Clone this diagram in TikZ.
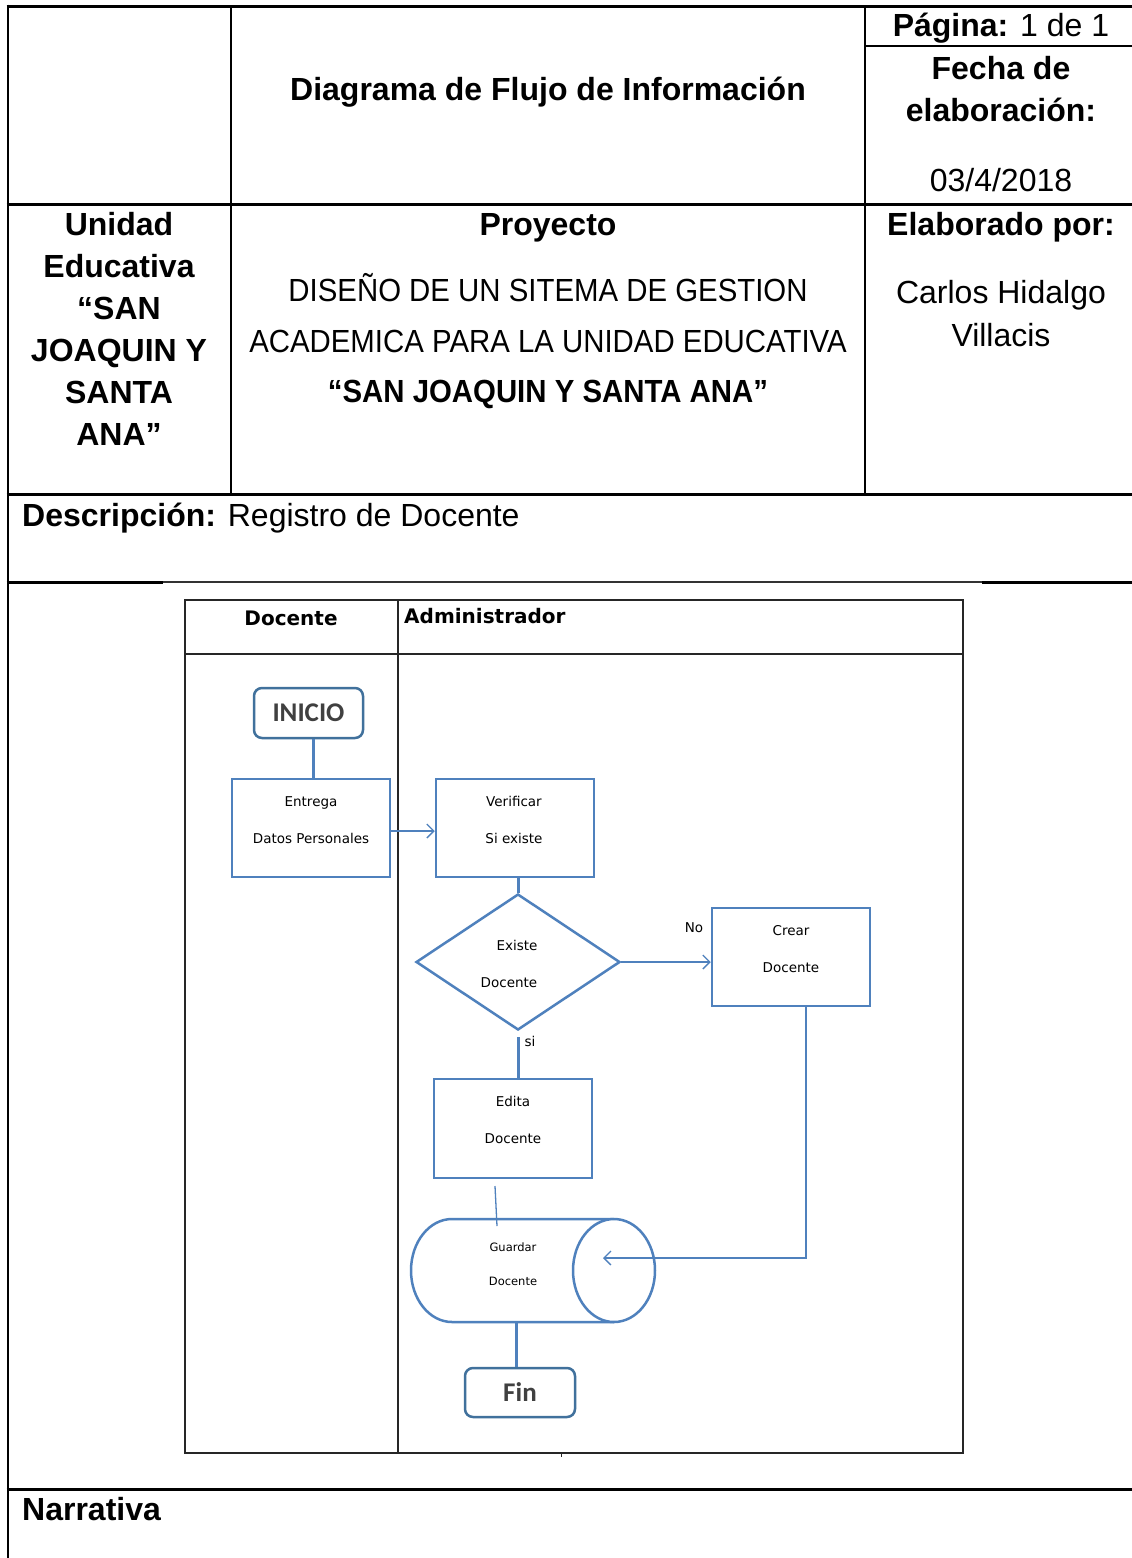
\documentclass[tikz,border=0pt]{standalone}
\usepackage{fontspec}
\setmainfont{Liberation Sans}
\newfontfamily\narrowfont{Liberation Sans}[FakeStretch=0.918]
\newfontfamily\flowfont{DejaVu Sans}
\newfontfamily\termfont{Carlito}
\usetikzlibrary{shapes.geometric,arrows.meta,calc}
\definecolor{boxblue}{HTML}{4F81BD}
\definecolor{termblue}{HTML}{41719C}
\definecolor{lanegray}{HTML}{262626}
\definecolor{termtext}{HTML}{404040}
\begin{document}
\begin{tikzpicture}[x=1pt,y=-1pt,
  hline/.style={line width=3pt,black},
  vline/.style={line width=2pt,black},
  big/.style={font=\fontsize{32}{38}\selectfont,anchor=base,inner sep=0pt},
  bigb/.style={font=\fontsize{32}{38}\selectfont\bfseries,anchor=base,inner sep=0pt},
  bign/.style={font=\narrowfont\fontsize{32}{38}\selectfont,anchor=base,inner sep=0pt},
  lane/.style={line width=1.5pt,lanegray},
  lanehead/.style={font=\flowfont\fontsize{20}{24}\selectfont\bfseries,anchor=base,inner sep=0pt},
  procbox/.style={draw=boxblue,line width=2.5pt,rectangle,inner sep=0pt,fill=white},
  termbox/.style={draw=termblue,line width=2.5pt,rectangle,rounded corners=8pt,inner sep=0pt,fill=white,
     text=termtext,font=\termfont\fontsize{27}{30}\selectfont\bfseries},
  flowtxt/.style={font=\flowfont\fontsize{13.5}{16}\selectfont,anchor=base,inner sep=0pt},
  smalltxt/.style={font=\flowfont\fontsize{11.5}{14}\selectfont,anchor=base,inner sep=0pt},
  thickconn/.style={draw=boxblue,line width=3pt},
  thinconn/.style={draw=boxblue,line width=1.3pt},
  thinarrow/.style={draw=boxblue,line width=1.3pt,-{Straight Barb[length=7pt,width=14pt]}}
]
\useasboundingbox[fill=white] (0,0) rectangle (1132,1558);

% ---------- table frame ----------
\draw[vline] (8,4.5) -- (8,1558);
\draw[hline] (6.5,6) -- (1132,6);
\draw[hline] (6.5,204) -- (1132,204);
\draw[hline] (6.5,494) -- (1132,494);
\draw[hline] (6.5,582) -- (163,582);
\draw[line width=1.5pt,black!80] (163,582) -- (982,582);
\draw[hline] (982,582) -- (1132,582);
\draw[hline] (6.5,1489) -- (1132,1489);
\draw[vline] (231,6) -- (231,494);
\draw[vline] (865,6) -- (865,494);
\draw[line width=2pt,black] (865,46) -- (1132,46);

% ---------- header texts ----------
\node[bigb] (titulo) at (548,100) {Diagrama de Flujo de Información};
\node[big] (pagina) at (1001,36) {\bfseries Página:\mdseries{} 1 de 1};
\node[bigb] (fecha1) at (1001,79) {Fecha de};
\node[bigb] (fecha2) at (1001,121) {elaboración:};
\node[big] (fecha3) at (1001,191) {03/4/2018};

\node[bigb] (u1) at (119,235) {Unidad};
\node[bigb] (u2) at (119,277) {Educativa};
\node[bigb] (u3) at (119,319) {“SAN};
\node[bigb] (u4) at (119,361) {JOAQUIN Y};
\node[bigb] (u5) at (119,403) {SANTA};
\node[bigb] (u6) at (119,445) {ANA”};

\node[bigb] (proy) at (548,235) {Proyecto};
\node[bign] (p1) at (548,301) {DISEÑO DE UN SITEMA DE GESTION};
\node[bign] (p2) at (548,352) {ACADEMICA PARA LA UNIDAD EDUCATIVA};
\node[bign] (p3) at (548,402) {\bfseries “SAN JOAQUIN Y SANTA ANA”};

\node[bigb] (elab) at (1001,235) {Elaborado por:};
\node[big] (e1) at (1001,303) {Carlos Hidalgo};
\node[big] (e2) at (1001,346) {Villacis};

\node[big,anchor=base west] (desc) at (22,526) {\bfseries Descripción:\mdseries{} Registro de Docente};
\node[bigb,anchor=base west] (narr) at (22,1520) {Narrativa};

% ---------- swimlanes ----------
\draw[lane] (185,600) rectangle (963,1453);
\draw[lane] (185,654) -- (963,654);
\draw[lane] (398,600) -- (398,1453);
\draw[line width=1pt,lanegray] (561,1453) -- (561,1457);
\node[lanehead] (lh1) at (291,625) {Docente};
\node[lanehead,anchor=base west] (lh2) at (404,623) {Administrador};

% ---------- flow nodes ----------
\node[termbox,minimum width=109,minimum height=50] (inicio) at (308.5,713) {INICIO};
\node[procbox,minimum width=158,minimum height=98] (entrega) at (311,828) {};
\node[procbox,minimum width=158,minimum height=98] (verificar) at (515,828) {};
\node[draw=boxblue,line width=2.5pt,diamond,aspect=1.5,inner sep=0pt,minimum width=204,minimum height=136,fill=white] (dec) at (518,962) {};
\node[procbox,minimum width=158,minimum height=98] (crear) at (791,957) {};
\node[procbox,minimum width=158,minimum height=99] (edita) at (513,1128.5) {};
\node[termbox,minimum width=110,minimum height=49] (fin) at (520,1392.5) {Fin};

% cylinder (horizontal, open end on the right)
\node[inner sep=0pt,minimum width=244,minimum height=103] (guardar) at (533,1270.5) {};
\fill[white] (614,1219) -- (452,1219) arc[start angle=270,end angle=90,x radius=41,y radius=51.5]
  -- (614,1322) -- cycle;
\draw[draw=boxblue,line width=2.5pt]
  (614,1219) -- (452,1219) arc[start angle=270,end angle=90,x radius=41,y radius=51.5]
  -- (614,1322);
\filldraw[draw=boxblue,fill=white,line width=2.5pt] (614,1270.5) ellipse[x radius=41,y radius=51.5];

% ---------- flow texts ----------
\node[flowtxt] (t1) at (311,806) {Entrega};
\node[flowtxt] (t2) at (311,843) {Datos Personales};
\node[flowtxt] (t3) at (514,806) {Verificar};
\node[flowtxt] (t4) at (514,843) {Si existe};
\node[flowtxt] (t5) at (517,950) {Existe};
\node[flowtxt] (t6) at (509,987) {Docente};
\node[flowtxt] (t7) at (791,935) {Crear};
\node[flowtxt] (t8) at (791,972) {Docente};
\node[flowtxt] (t9) at (513,1106) {Edita};
\node[flowtxt] (t10) at (513,1143) {Docente};
\node[smalltxt] (t11) at (513,1251) {Guardar};
\node[smalltxt] (t12) at (513,1285) {Docente};
\node[flowtxt] (lno) at (694,932) {No};
\node[flowtxt] (lsi) at (530,1046) {si};

% ---------- connectors ----------
\coordinate (cylend) at (603,1258);
\coordinate (ed1) at (495,1186);
\coordinate (ed2) at (497,1226);
\draw[thickconn] ([xshift=5pt]inicio.south) -- ([xshift=5pt]inicio.south |- entrega.north);
\draw[thinarrow] ([yshift=-3pt]entrega.east) -- ([yshift=-3pt]verificar.west);
\draw[thickconn] (dec.north |- verificar.south) -- (dec.north);
\draw[thinarrow] (dec.east) -- (crear.west |- dec.east);
\draw[thickconn] ([yshift=-6pt]dec.south) -- (edita.north -| dec.south);
\draw[thinarrow] ([xshift=15pt]crear.south) |- (cylend);
\draw[thinconn] (ed1) -- (ed2);
\draw[thickconn] ([xshift=-4pt]fin.north |- guardar.south) -- ([xshift=-4pt]fin.north);
\end{tikzpicture}
\end{document}
